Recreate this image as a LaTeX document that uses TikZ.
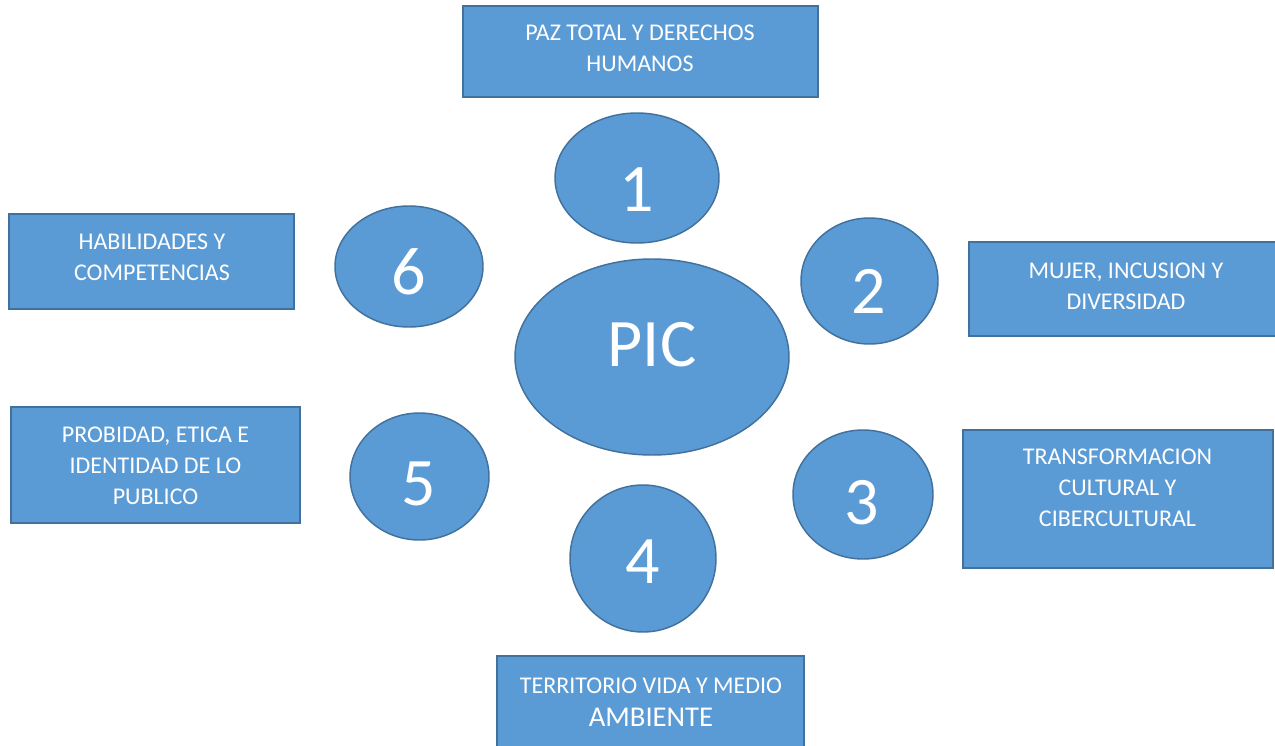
\documentclass[tikz,border=0pt]{standalone}
\usepackage{fontspec}
\setmainfont{Carlito}
\usetikzlibrary{shapes.geometric}
\definecolor{fillblue}{HTML}{5B9BD5}
\definecolor{edgeblue}{HTML}{41719C}
\tikzset{
  boxshape/.style={draw=edgeblue, fill=fillblue, line width=1.5pt, rectangle, inner sep=0pt},
  ovalshape/.style={draw=edgeblue, fill=fillblue, line width=1.1pt, ellipse, inner sep=0pt},
  boxtext/.style={text=white, align=center, inner sep=0pt, font=\fontsize{18}{23.25}\selectfont},
  bigtext/.style={text=white, inner sep=0pt, font=\fontsize{51}{60}\selectfont},
}
\begin{document}
\begin{tikzpicture}[x=0.75pt,y=-0.75pt]
\useasboundingbox (0,0) rectangle (1275,746);
\clip (0,0) rectangle (1275,746);
\fill[white] (0,0) rectangle (1275,746);
% boxes
\node[boxshape, minimum width=266.25pt, minimum height=68.25pt] (b1) at (640.5,51.5) {};
\node[boxshape, minimum width=234.75pt, minimum height=70.5pt] (b2) at (1125.5,289) {};
\node[boxshape, minimum width=232.5pt, minimum height=103.5pt] (b3) at (1118,499) {};
\node[boxshape, minimum width=230.25pt, minimum height=78pt] (b4) at (650.5,708) {};
\node[boxshape, minimum width=216.75pt, minimum height=87pt] (b5) at (155.5,465) {};
\node[boxshape, minimum width=213.75pt, minimum height=71.25pt] (b6) at (151.5,261.5) {};
% box texts
\node[boxtext] (t1) at (640,48.5) {PAZ TOTAL Y DERECHOS\\HUMANOS};
\node[boxtext] (t2) at (1126,286) {MUJER, INCUSION Y\\DIVERSIDAD};
\node[boxtext] (t3) at (1117.5,488) {TRANSFORMACION\\CULTURAL Y\\CIBERCULTURAL};
\node[boxtext] (t4) at (651,702) {TERRITORIO VIDA Y MEDIO\\[1.5pt]{\fontsize{21.5}{25}\selectfont AMBIENTE}};
\node[boxtext] (t5) at (155.5,466) {PROBIDAD, ETICA E\\IDENTIDAD DE LO\\PUBLICO};
\node[boxtext] (t6) at (152,257.5) {HABILIDADES Y\\COMPETENCIAS};
% ellipses
\node[ovalshape, minimum width=205.5pt, minimum height=147pt] (e0) at (652,357) {};
\node[ovalshape, minimum width=123pt, minimum height=97.5pt] (e1) at (637,178) {};
\node[ovalshape, minimum width=102.75pt, minimum height=94.5pt] (e2) at (869.5,281) {};
\node[ovalshape, minimum width=105pt, minimum height=96.75pt] (e3) at (863,494.5) {};
\node[ovalshape, minimum width=109.5pt, minimum height=110.25pt] (e4) at (643,558.5) {};
\node[ovalshape, minimum width=104.25pt, minimum height=95.25pt] (e5) at (419.5,476.5) {};
\node[ovalshape, minimum width=111pt, minimum height=90.75pt] (e6) at (409,266.5) {};
% ellipse texts
\node[bigtext] (n0) at (652,345) {PIC};
\node[bigtext] (n1) at (637,190) {1};
\node[bigtext] (n2) at (869,291) {2};
\node[bigtext] (n3) at (862,503) {3};
\node[bigtext] (n4) at (643,562) {4};
\node[bigtext] (n5) at (419,484) {5};
\node[bigtext] (n6) at (409,272) {6};
\end{tikzpicture}
\end{document}
